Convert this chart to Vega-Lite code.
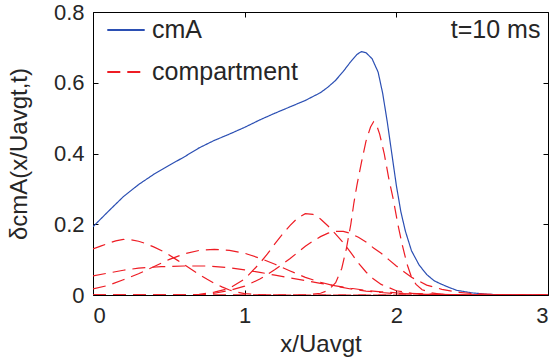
{
  "$schema": "https://vega.github.io/schema/vega-lite/v6.json",
  "width": 455,
  "height": 283,
  "autosize": {"type": "none"},
  "padding": {"left": 93, "top": 12, "right": 6, "bottom": 69},
  "background": "white",
  "config": {
    "view": {"stroke": "black", "strokeWidth": 1},
    "font": "Liberation Sans",
    "axis": {"labelFont": "Liberation Sans", "titleFont": "Liberation Sans", "labelColor": "#262626", "titleColor": "#262626", "titleFontWeight": "normal", "grid": false, "domain": false, "tickColor": "black"}
  },
  "datasets": {
    "curves": [
      {"s":"cmA","k":"cmA","x":0,"y":0.193},{"s":"cmA","k":"cmA","x":0.1,"y":0.236},{"s":"cmA","k":"cmA","x":0.2,"y":0.278},{"s":"cmA","k":"cmA","x":0.3,"y":0.312},{"s":"cmA","k":"cmA","x":0.4,"y":0.341},{"s":"cmA","k":"cmA","x":0.5,"y":0.366},{"s":"cmA","k":"cmA","x":0.6,"y":0.39},{"s":"cmA","k":"cmA","x":0.7,"y":0.416},{"s":"cmA","k":"cmA","x":0.8,"y":0.437},{"s":"cmA","k":"cmA","x":0.9,"y":0.455},{"s":"cmA","k":"cmA","x":1.0,"y":0.474},{"s":"cmA","k":"cmA","x":1.1,"y":0.495},{"s":"cmA","k":"cmA","x":1.2,"y":0.514},{"s":"cmA","k":"cmA","x":1.3,"y":0.532},{"s":"cmA","k":"cmA","x":1.4,"y":0.55},{"s":"cmA","k":"cmA","x":1.5,"y":0.572},{"s":"cmA","k":"cmA","x":1.55,"y":0.588},{"s":"cmA","k":"cmA","x":1.6,"y":0.607},{"s":"cmA","k":"cmA","x":1.65,"y":0.632},{"s":"cmA","k":"cmA","x":1.7,"y":0.66},{"s":"cmA","k":"cmA","x":1.74,"y":0.68},{"s":"cmA","k":"cmA","x":1.77,"y":0.688},{"s":"cmA","k":"cmA","x":1.8,"y":0.685},{"s":"cmA","k":"cmA","x":1.84,"y":0.668},{"s":"cmA","k":"cmA","x":1.88,"y":0.63},{"s":"cmA","k":"cmA","x":1.91,"y":0.57},{"s":"cmA","k":"cmA","x":1.94,"y":0.49},{"s":"cmA","k":"cmA","x":1.97,"y":0.4},{"s":"cmA","k":"cmA","x":2.0,"y":0.31},{"s":"cmA","k":"cmA","x":2.03,"y":0.235},{"s":"cmA","k":"cmA","x":2.06,"y":0.18},{"s":"cmA","k":"cmA","x":2.1,"y":0.125},{"s":"cmA","k":"cmA","x":2.15,"y":0.085},{"s":"cmA","k":"cmA","x":2.2,"y":0.058},{"s":"cmA","k":"cmA","x":2.25,"y":0.04},{"s":"cmA","k":"cmA","x":2.3,"y":0.03},{"s":"cmA","k":"cmA","x":2.35,"y":0.021},{"s":"cmA","k":"cmA","x":2.4,"y":0.013},{"s":"cmA","k":"cmA","x":2.5,"y":0.006},{"s":"cmA","k":"cmA","x":2.6,"y":0.002},{"s":"cmA","k":"cmA","x":2.7,"y":0.0005},{"s":"cmA","k":"cmA","x":2.8,"y":0},{"s":"cmA","k":"cmA","x":3.0,"y":0},

      {"s":"compartment","k":"A","x":0,"y":0.13},{"s":"compartment","k":"A","x":0.05,"y":0.138},{"s":"compartment","k":"A","x":0.1,"y":0.146},{"s":"compartment","k":"A","x":0.15,"y":0.153},{"s":"compartment","k":"A","x":0.2,"y":0.157},{"s":"compartment","k":"A","x":0.25,"y":0.156},{"s":"compartment","k":"A","x":0.3,"y":0.152},{"s":"compartment","k":"A","x":0.35,"y":0.145},{"s":"compartment","k":"A","x":0.4,"y":0.136},{"s":"compartment","k":"A","x":0.45,"y":0.126},{"s":"compartment","k":"A","x":0.5,"y":0.114},{"s":"compartment","k":"A","x":0.55,"y":0.1},{"s":"compartment","k":"A","x":0.6,"y":0.086},{"s":"compartment","k":"A","x":0.65,"y":0.072},{"s":"compartment","k":"A","x":0.7,"y":0.058},{"s":"compartment","k":"A","x":0.75,"y":0.045},{"s":"compartment","k":"A","x":0.8,"y":0.033},{"s":"compartment","k":"A","x":0.85,"y":0.023},{"s":"compartment","k":"A","x":0.9,"y":0.014},{"s":"compartment","k":"A","x":0.95,"y":0.008},{"s":"compartment","k":"A","x":1.0,"y":0.004},{"s":"compartment","k":"A","x":1.1,"y":0.001},{"s":"compartment","k":"A","x":1.2,"y":0},{"s":"compartment","k":"A","x":3.0,"y":0},

      {"s":"compartment","k":"B","x":0,"y":0.054},{"s":"compartment","k":"B","x":0.1,"y":0.062},{"s":"compartment","k":"B","x":0.2,"y":0.07},{"s":"compartment","k":"B","x":0.3,"y":0.076},{"s":"compartment","k":"B","x":0.45,"y":0.08},{"s":"compartment","k":"B","x":0.6,"y":0.082},{"s":"compartment","k":"B","x":0.75,"y":0.082},{"s":"compartment","k":"B","x":0.9,"y":0.077},{"s":"compartment","k":"B","x":1.0,"y":0.071},{"s":"compartment","k":"B","x":1.1,"y":0.064},{"s":"compartment","k":"B","x":1.2,"y":0.056},{"s":"compartment","k":"B","x":1.3,"y":0.048},{"s":"compartment","k":"B","x":1.4,"y":0.041},{"s":"compartment","k":"B","x":1.5,"y":0.033},{"s":"compartment","k":"B","x":1.6,"y":0.026},{"s":"compartment","k":"B","x":1.7,"y":0.019},{"s":"compartment","k":"B","x":1.8,"y":0.013},{"s":"compartment","k":"B","x":1.9,"y":0.009},{"s":"compartment","k":"B","x":2.0,"y":0.006},{"s":"compartment","k":"B","x":2.2,"y":0.003},{"s":"compartment","k":"B","x":2.4,"y":0.001},{"s":"compartment","k":"B","x":2.6,"y":0},{"s":"compartment","k":"B","x":3.0,"y":0},

      {"s":"compartment","k":"C","x":0,"y":0.017},{"s":"compartment","k":"C","x":0.1,"y":0.027},{"s":"compartment","k":"C","x":0.2,"y":0.043},{"s":"compartment","k":"C","x":0.3,"y":0.06},{"s":"compartment","k":"C","x":0.4,"y":0.08},{"s":"compartment","k":"C","x":0.5,"y":0.1},{"s":"compartment","k":"C","x":0.6,"y":0.116},{"s":"compartment","k":"C","x":0.7,"y":0.126},{"s":"compartment","k":"C","x":0.8,"y":0.129},{"s":"compartment","k":"C","x":0.9,"y":0.126},{"s":"compartment","k":"C","x":1.0,"y":0.118},{"s":"compartment","k":"C","x":1.1,"y":0.104},{"s":"compartment","k":"C","x":1.2,"y":0.087},{"s":"compartment","k":"C","x":1.3,"y":0.068},{"s":"compartment","k":"C","x":1.4,"y":0.05},{"s":"compartment","k":"C","x":1.5,"y":0.036},{"s":"compartment","k":"C","x":1.6,"y":0.025},{"s":"compartment","k":"C","x":1.7,"y":0.017},{"s":"compartment","k":"C","x":1.8,"y":0.011},{"s":"compartment","k":"C","x":1.9,"y":0.007},{"s":"compartment","k":"C","x":2.0,"y":0.004},{"s":"compartment","k":"C","x":2.2,"y":0.002},{"s":"compartment","k":"C","x":2.4,"y":0.001},{"s":"compartment","k":"C","x":2.6,"y":0},{"s":"compartment","k":"C","x":3.0,"y":0},

      {"s":"compartment","k":"D","x":0,"y":0},{"s":"compartment","k":"D","x":3.0,"y":0},

      {"s":"compartment","k":"E","x":0,"y":0},{"s":"compartment","k":"E","x":0.6,"y":0},{"s":"compartment","k":"E","x":0.7,"y":0.002},{"s":"compartment","k":"E","x":0.8,"y":0.008},{"s":"compartment","k":"E","x":0.9,"y":0.019},{"s":"compartment","k":"E","x":1.0,"y":0.045},{"s":"compartment","k":"E","x":1.1,"y":0.09},{"s":"compartment","k":"E","x":1.15,"y":0.116},{"s":"compartment","k":"E","x":1.2,"y":0.145},{"s":"compartment","k":"E","x":1.25,"y":0.172},{"s":"compartment","k":"E","x":1.3,"y":0.197},{"s":"compartment","k":"E","x":1.35,"y":0.218},{"s":"compartment","k":"E","x":1.4,"y":0.23},{"s":"compartment","k":"E","x":1.45,"y":0.228},{"s":"compartment","k":"E","x":1.5,"y":0.215},{"s":"compartment","k":"E","x":1.55,"y":0.195},{"s":"compartment","k":"E","x":1.6,"y":0.172},{"s":"compartment","k":"E","x":1.65,"y":0.148},{"s":"compartment","k":"E","x":1.7,"y":0.12},{"s":"compartment","k":"E","x":1.75,"y":0.09},{"s":"compartment","k":"E","x":1.8,"y":0.065},{"s":"compartment","k":"E","x":1.85,"y":0.045},{"s":"compartment","k":"E","x":1.9,"y":0.03},{"s":"compartment","k":"E","x":2.0,"y":0.012},{"s":"compartment","k":"E","x":2.1,"y":0.005},{"s":"compartment","k":"E","x":2.2,"y":0.002},{"s":"compartment","k":"E","x":2.4,"y":0},{"s":"compartment","k":"E","x":3.0,"y":0},

      {"s":"compartment","k":"F","x":0,"y":0},{"s":"compartment","k":"F","x":0.7,"y":0},{"s":"compartment","k":"F","x":0.8,"y":0.005},{"s":"compartment","k":"F","x":0.9,"y":0.013},{"s":"compartment","k":"F","x":1.0,"y":0.025},{"s":"compartment","k":"F","x":1.1,"y":0.045},{"s":"compartment","k":"F","x":1.2,"y":0.072},{"s":"compartment","k":"F","x":1.3,"y":0.103},{"s":"compartment","k":"F","x":1.4,"y":0.138},{"s":"compartment","k":"F","x":1.45,"y":0.152},{"s":"compartment","k":"F","x":1.5,"y":0.165},{"s":"compartment","k":"F","x":1.55,"y":0.175},{"s":"compartment","k":"F","x":1.6,"y":0.18},{"s":"compartment","k":"F","x":1.65,"y":0.18},{"s":"compartment","k":"F","x":1.7,"y":0.174},{"s":"compartment","k":"F","x":1.75,"y":0.163},{"s":"compartment","k":"F","x":1.8,"y":0.15},{"s":"compartment","k":"F","x":1.85,"y":0.133},{"s":"compartment","k":"F","x":1.9,"y":0.118},{"s":"compartment","k":"F","x":1.95,"y":0.1},{"s":"compartment","k":"F","x":2.0,"y":0.082},{"s":"compartment","k":"F","x":2.05,"y":0.066},{"s":"compartment","k":"F","x":2.1,"y":0.05},{"s":"compartment","k":"F","x":2.2,"y":0.028},{"s":"compartment","k":"F","x":2.3,"y":0.016},{"s":"compartment","k":"F","x":2.4,"y":0.008},{"s":"compartment","k":"F","x":2.5,"y":0.004},{"s":"compartment","k":"F","x":2.7,"y":0.001},{"s":"compartment","k":"F","x":2.9,"y":0},{"s":"compartment","k":"F","x":3.0,"y":0},

      {"s":"compartment","k":"G","x":0,"y":0},{"s":"compartment","k":"G","x":1.4,"y":0},{"s":"compartment","k":"G","x":1.5,"y":0.005},{"s":"compartment","k":"G","x":1.55,"y":0.013},{"s":"compartment","k":"G","x":1.6,"y":0.035},{"s":"compartment","k":"G","x":1.64,"y":0.075},{"s":"compartment","k":"G","x":1.67,"y":0.13},{"s":"compartment","k":"G","x":1.7,"y":0.2},{"s":"compartment","k":"G","x":1.72,"y":0.26},{"s":"compartment","k":"G","x":1.74,"y":0.31},{"s":"compartment","k":"G","x":1.77,"y":0.375},{"s":"compartment","k":"G","x":1.8,"y":0.435},{"s":"compartment","k":"G","x":1.83,"y":0.475},{"s":"compartment","k":"G","x":1.85,"y":0.49},{"s":"compartment","k":"G","x":1.87,"y":0.48},{"s":"compartment","k":"G","x":1.89,"y":0.455},{"s":"compartment","k":"G","x":1.92,"y":0.4},{"s":"compartment","k":"G","x":1.95,"y":0.33},{"s":"compartment","k":"G","x":1.98,"y":0.27},{"s":"compartment","k":"G","x":2.01,"y":0.2},{"s":"compartment","k":"G","x":2.04,"y":0.14},{"s":"compartment","k":"G","x":2.07,"y":0.088},{"s":"compartment","k":"G","x":2.1,"y":0.05},{"s":"compartment","k":"G","x":2.13,"y":0.03},{"s":"compartment","k":"G","x":2.17,"y":0.015},{"s":"compartment","k":"G","x":2.23,"y":0.006},{"s":"compartment","k":"G","x":2.3,"y":0.002},{"s":"compartment","k":"G","x":2.4,"y":0},{"s":"compartment","k":"G","x":3.0,"y":0}
    ],
    "note": [{"label": "t=10 ms", "x": 2.95, "y": 0.75}]
  },
  "layer": [
    {
      "data": {"name": "curves"},
      "mark": {"type": "line", "strokeWidth": 1.2, "clip": true},
      "encoding": {
        "x": {"field": "x", "type": "quantitative", "scale": {"domain": [0, 3], "nice": false, "zero": false},
              "axis": {"orient": "bottom", "values": [0, 1, 2, 3], "format": "~g", "title": "x/Uavgt", "labelFontSize": 22, "titleFontSize": 24, "tickSize": -5, "labelPadding": 15, "titlePadding": 6}},
        "y": {"field": "y", "type": "quantitative", "scale": {"domain": [0, 0.8], "nice": false},
              "axis": {"orient": "left", "values": [0, 0.2, 0.4, 0.6, 0.8], "format": "~g", "title": "δcmA(x/Uavgt,t)", "labelFontSize": 22, "titleFontSize": 24, "tickSize": -5, "labelPadding": 14, "titlePadding": 22}},
        "color": {"field": "s", "type": "nominal", "scale": {"domain": ["cmA", "compartment"], "range": ["#2b4fb3", "#ee1c24"]},
                  "legend": {"title": null, "orient": "none", "legendX": 13, "legendY": -2, "symbolType": "stroke", "symbolSize": 1400, "symbolStrokeWidth": 2, "labelFontSize": 25, "labelColor": "#262626", "labelFont": "Liberation Sans", "rowPadding": 9, "labelOffset": 6,
                             "encode": {"symbols": {"update": {"strokeDash": {"signal": "datum.value === 'compartment' ? [7, 5] : [1, 0]"}}}}}},
        "strokeDash": {"field": "s", "type": "nominal", "scale": {"domain": ["cmA", "compartment"], "range": [[1, 0], [13, 7]]}, "legend": null},
        "detail": {"field": "k", "type": "nominal"},
        "order": {"field": "x", "type": "quantitative"}
      }
    },
    {
      "data": {"name": "curves"},
      "mark": {"type": "line", "opacity": 0},
      "encoding": {
        "x": {"field": "x", "type": "quantitative", "axis": {"orient": "top", "values": [0, 1, 2, 3], "labels": false, "title": null, "tickSize": -5}},
        "y": {"field": "y", "type": "quantitative", "axis": {"orient": "right", "values": [0, 0.2, 0.4, 0.6, 0.8], "labels": false, "title": null, "tickSize": -5}},
        "detail": {"field": "k", "type": "nominal"}
      }
    },
    {
      "data": {"name": "note"},
      "mark": {"type": "text", "align": "right", "baseline": "middle", "fontSize": 25, "font": "Liberation Sans", "color": "#262626"},
      "encoding": {
        "x": {"field": "x", "type": "quantitative", "axis": null},
        "y": {"field": "y", "type": "quantitative", "axis": null},
        "text": {"field": "label"}
      }
    }
  ],
  "resolve": {"axis": {"x": "independent", "y": "independent"}}
}
